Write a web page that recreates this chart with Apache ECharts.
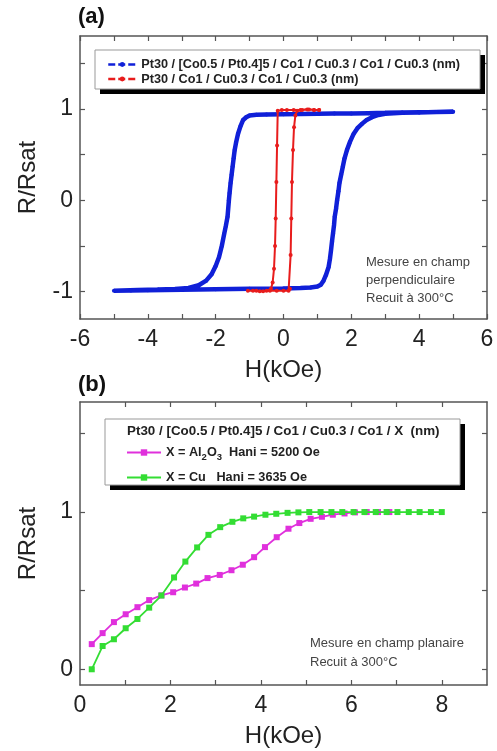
<!DOCTYPE html>
<html>
<head>
<meta charset="utf-8">
<script src="https://cdn.jsdelivr.net/npm/echarts@6/dist/echarts.min.js"></script>
<style>
  html, body { margin: 0; padding: 0; background: #fff; }
  #chart { width: 497px; height: 751px; }
</style>
</head>
<body>
<div id="chart"></div>
<script>
// panel (a): hysteresis loops, [H (kOe), R/Rsat]
const multilayerLoop = [
  [5.0, 0.97], [4.5, 0.968], [4.0, 0.965], [3.5, 0.962], [3.0, 0.958], [2.5, 0.955],
  [2.0, 0.952], [1.5, 0.95], [1.0, 0.948], [0.5, 0.945], [0.0, 0.943], [-0.5, 0.94],
  [-0.8, 0.937], [-1.0, 0.93], [-1.1, 0.91], [-1.19, 0.88], [-1.27, 0.81], [-1.34, 0.73],
  [-1.4, 0.63], [-1.44, 0.55], [-1.47, 0.46], [-1.5, 0.37], [-1.53, 0.28], [-1.56, 0.19],
  [-1.59, 0.08], [-1.61, 0.0], [-1.65, -0.18], [-1.7, -0.28], [-1.75, -0.37],
  [-1.82, -0.5], [-1.9, -0.62], [-2.0, -0.72], [-2.12, -0.81], [-2.28, -0.88],
  [-2.5, -0.93], [-2.8, -0.96], [-3.2, -0.972], [-3.7, -0.978], [-4.3, -0.983], [-5.0, -0.99],
  [-4.5, -0.988], [-4.0, -0.985], [-3.0, -0.98], [-2.0, -0.975], [-1.0, -0.97],
  [0.0, -0.965], [0.5, -0.96], [0.8, -0.955], [1.0, -0.945], [1.1, -0.925],
  [1.18, -0.88], [1.25, -0.82], [1.33, -0.73], [1.37, -0.64], [1.4, -0.55],
  [1.43, -0.45], [1.46, -0.36], [1.49, -0.27], [1.51, -0.18], [1.55, -0.09],
  [1.58, 0.0], [1.62, 0.1], [1.65, 0.19], [1.7, 0.28], [1.75, 0.37], [1.8, 0.46],
  [1.87, 0.55], [1.96, 0.64], [2.07, 0.73], [2.18, 0.79], [2.32, 0.84], [2.45, 0.88],
  [2.61, 0.91], [2.8, 0.935], [3.0, 0.948], [3.5, 0.958], [4.0, 0.963], [4.5, 0.967], [5.0, 0.97]
];
const simpleLoop = [
  [1.05, 0.99], [0.9, 0.99], [0.7, 0.995], [0.5, 0.99], [0.3, 0.99], [0.1, 0.99],
  [-0.05, 0.99], [-0.17, 0.98], [-0.19, 0.6], [-0.21, 0.2], [-0.23, -0.2],
  [-0.25, -0.5], [-0.28, -0.75], [-0.32, -0.9], [-0.37, -0.97], [-0.5, -0.99],
  [-0.7, -0.995], [-0.9, -0.99], [-1.05, -0.99],
  [-0.8, -0.99], [-0.6, -0.995], [-0.4, -0.99], [-0.2, -0.99], [0.0, -0.99],
  [0.15, -0.99], [0.19, -0.97], [0.21, -0.6], [0.23, -0.2], [0.25, 0.2],
  [0.28, 0.55], [0.31, 0.8], [0.35, 0.93], [0.4, 0.98], [0.55, 0.99],
  [0.75, 0.995], [0.9, 0.99], [1.05, 0.99]
];

// panel (b): planar field curves
const al2o3H = [0.26, 0.5, 0.75, 1.01, 1.27, 1.53, 1.8, 2.06, 2.32, 2.57, 2.82, 3.09, 3.35,
  3.6, 3.85, 4.09, 4.35, 4.61, 4.85, 5.1, 5.35, 5.59, 5.85, 6.08, 6.34, 6.59, 6.84];
const al2o3R = [0.16, 0.23, 0.3, 0.35, 0.395, 0.44, 0.47, 0.49, 0.52, 0.545, 0.58, 0.6, 0.63,
  0.665, 0.713, 0.777, 0.84, 0.894, 0.93, 0.957, 0.97, 0.983, 0.991, 0.998, 1.0, 1.0, 1.0];
const cuH = [0.26, 0.5, 0.75, 1.01, 1.27, 1.53, 1.8, 2.08, 2.33, 2.59, 2.84, 3.1, 3.37,
  3.61, 3.85, 4.1, 4.34, 4.59, 4.83, 5.07, 5.32, 5.56, 5.8, 6.05, 6.29, 6.54, 6.78,
  7.02, 7.27, 7.51, 7.76, 8.0];
const cuR = [0.0, 0.148, 0.191, 0.261, 0.32, 0.392, 0.469, 0.584, 0.685, 0.775, 0.855, 0.904, 0.938,
  0.96, 0.971, 0.983, 0.989, 0.995, 0.998, 1.0, 1.0, 1.0, 1.0, 1.0, 1.0, 1.0, 1.0,
  1.0, 1.0, 1.0, 1.0, 1.0];

// axis ticks and labels
const ticksAx = [-6, -5, -4, -3, -2, -1, 0, 1, 2, 3, 4, 5, 6];
const labelsAx = [-6, -4, -2, 0, 2, 4, 6];
const ticksAy = [-1, -0.5, 0, 0.5, 1, 1.5];
const labelsAy = [-1, 0, 1];
const ticksBx = [1, 2, 3, 4, 5, 6, 7, 8];
const labelsBx = [0, 2, 4, 6, 8];
const ticksBy = [0, 0.5, 1, 1.5];
const labelsBy = [0, 1];

const nameMulti = 'Pt30 / [Co0.5 / Pt0.4]5 / Co1 / Cu0.3 / Co1 / Cu0.3 (nm)';
const nameSimple = 'Pt30 / Co1 / Cu0.3 / Co1 / Cu0.3 (nm)';
const nameAl = 'X = Al2O3  Hani = 5200 Oe';
const nameCu = 'X = Cu   Hani = 3635 Oe';

const FONT = 'Liberation Sans, Arial, sans-serif';
const AXIS_COLOR = '#555';

const makeAxis = (gridIndex, position, min, max, ticks, labels, name, nameGap) => {
  const mirror = position === 'top' || position === 'right';
  const vertical = position === 'left' || position === 'right';
  return {
    type: 'value',
    gridIndex,
    position,
    min,
    max,
    splitLine: { show: false },
    axisLine: { show: true, onZero: false, lineStyle: { color: AXIS_COLOR, width: 1.5 } },
    axisTick: {
      show: true,
      inside: true,
      length: 5,
      customValues: ticks,
      lineStyle: { color: AXIS_COLOR, width: 1.2 }
    },
    axisLabel: {
      show: !mirror,
      customValues: labels,
      fontSize: 23,
      fontFamily: FONT,
      color: '#222',
      margin: vertical ? 7 : 9
    },
    name: mirror ? '' : name,
    nameLocation: 'middle',
    nameGap,
    nameRotate: vertical ? 90 : 0,
    nameTextStyle: { fontSize: 24, fontFamily: FONT, color: '#222' }
  };
};

const chart = echarts.init(document.getElementById('chart'));

const legendText = {
  fontSize: 12.7,
  fontWeight: 'bold',
  fontFamily: FONT,
  color: '#222'
};

const option = {
  backgroundColor: '#fff',
  animation: false,
  grid: [
    { left: 80, top: 36, width: 407, height: 283 },
    { left: 80, top: 402, width: 407, height: 283 }
  ],
  xAxis: [
    makeAxis(0, 'bottom', -6, 6, ticksAx, labelsAx, 'H(kOe)', 39),
    makeAxis(0, 'top', -6, 6, ticksAx, labelsAx, '', 0),
    makeAxis(1, 'bottom', 0, 9, ticksBx, labelsBx, 'H(kOe)', 39),
    makeAxis(1, 'top', 0, 9, ticksBx, labelsBx, '', 0)
  ],
  yAxis: [
    makeAxis(0, 'left', -1.3, 1.8, ticksAy, labelsAy, 'R/Rsat', 40),
    makeAxis(0, 'right', -1.3, 1.8, ticksAy, labelsAy, '', 0),
    makeAxis(1, 'left', -0.1, 1.7, ticksBy, labelsBy, 'R/Rsat', 40),
    makeAxis(1, 'right', -0.1, 1.7, ticksBy, labelsBy, '', 0)
  ],
  legend: [
    {
      data: [nameMulti, nameSimple],
      orient: 'vertical',
      left: 107,
      top: 58,
      padding: 0,
      itemGap: 1.5,
      itemWidth: 28,
      itemHeight: 6,
      selectedMode: false,
      z: 60,
      lineStyle: { type: [7, 3], width: 2.5 },
      textStyle: legendText
    },
    {
      data: [nameAl, nameCu],
      orient: 'vertical',
      left: 126,
      top: 446,
      padding: 0,
      itemGap: 9,
      itemWidth: 34,
      itemHeight: 8,
      selectedMode: false,
      z: 60,
      formatter: (name) => name === nameAl
        ? '{t|X = Al}{s|2}{t|O}{s|3}{t|  Hani = 5200 Oe}'
        : '{t|X = Cu   Hani = 3635 Oe}',
      textStyle: {
        ...legendText,
        rich: {
          t: { ...legendText },
          s: { ...legendText, fontSize: 9.5, padding: [9, 0, 0, 0] }
        }
      }
    }
  ],
  graphic: [
    { type: 'rect', z: 50, shape: { x: 100, y: 55, width: 385, height: 39 }, style: { fill: '#000' } },
    { type: 'rect', z: 51, shape: { x: 95, y: 50, width: 385, height: 39 }, style: { fill: '#fff', stroke: '#999', lineWidth: 1 } },
    { type: 'rect', z: 50, shape: { x: 110, y: 424, width: 355, height: 66 }, style: { fill: '#000' } },
    { type: 'rect', z: 51, shape: { x: 105, y: 419, width: 355, height: 66 }, style: { fill: '#fff', stroke: '#999', lineWidth: 1 } },
    {
      type: 'text', z: 60, left: 127, top: 425,
      style: { text: 'Pt30 / [Co0.5 / Pt0.4]5 / Co1 / Cu0.3 / Co1 / X  (nm)', fill: '#222', font: 'bold 13.4px ' + FONT }
    },
    {
      type: 'text', z: 60, left: 78, top: 6,
      style: { text: '(a)', font: 'bold 22px ' + FONT, fill: '#111' }
    },
    {
      type: 'text', z: 60, left: 78, top: 374,
      style: { text: '(b)', font: 'bold 22px ' + FONT, fill: '#111' }
    },
    {
      type: 'text', z: 60, left: 366, top: 253,
      style: { text: 'Mesure en champ\nperpendiculaire\nRecuit à 300°C', font: '13px ' + FONT, fill: '#444', lineHeight: 18 }
    },
    {
      type: 'text', z: 60, left: 310, top: 634,
      style: { text: 'Mesure en champ planaire\nRecuit à 300°C', font: '13px ' + FONT, fill: '#444', lineHeight: 19 }
    }
  ],
  series: [
    {
      name: nameMulti,
      type: 'line',
      xAxisIndex: 0,
      yAxisIndex: 0,
      data: multilayerLoop,
      color: '#1020d8',
      symbol: 'circle',
      symbolSize: 4,
      lineStyle: { width: 4.5 },
      z: 3
    },
    {
      name: nameSimple,
      type: 'line',
      xAxisIndex: 0,
      yAxisIndex: 0,
      data: simpleLoop,
      color: '#e81c1c',
      symbol: 'circle',
      symbolSize: 4,
      lineStyle: { width: 2 },
      z: 4
    },
    {
      name: nameAl,
      type: 'line',
      xAxisIndex: 2,
      yAxisIndex: 2,
      data: al2o3H.map((h, i) => [h, al2o3R[i]]),
      color: '#e030dc',
      symbol: 'rect',
      symbolSize: 6,
      lineStyle: { width: 1.8 },
      z: 3
    },
    {
      name: nameCu,
      type: 'line',
      xAxisIndex: 2,
      yAxisIndex: 2,
      data: cuH.map((h, i) => [h, cuR[i]]),
      color: '#33dd33',
      symbol: 'rect',
      symbolSize: 6,
      lineStyle: { width: 1.8 },
      z: 4
    }
  ]
};

chart.setOption(option);
</script>
</body>
</html>
